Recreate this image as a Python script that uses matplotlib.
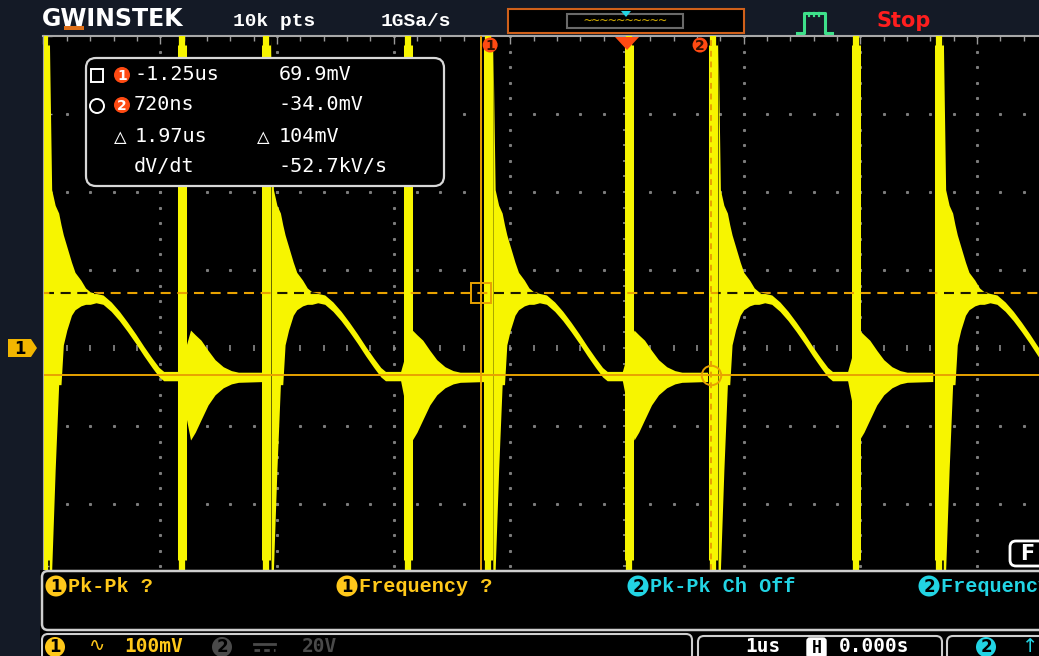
import numpy as np
import matplotlib.pyplot as plt
from matplotlib.patches import FancyBboxPatch, Rectangle, Polygon, Circle
from matplotlib.ticker import MultipleLocator

W, H = 1039, 656

# ---- values ----
# time in us (0 = trigger point), level in mV (0 = ch1 ground); 1us/div, 100mV/div
rise_times = [-5.00, -3.10, -1.20, 0.73, 2.66]
fall_times = [-3.82, -1.89, 0.01, 1.95]
spike_span = (-272, 388)   # where the spikes are drawn at full width

# one cycle after each rising spike: offset (us), top / bottom of the trace band (mV)
cycle_t = [0.05, 0.07, 0.10, 0.13, 0.15, 0.17, 0.20, 0.24, 0.27, 0.32, 0.36, 0.40,
           0.45, 0.51, 0.58, 0.65, 0.72, 0.79, 0.86, 0.93, 0.99, 1.03, 1.16,
           1.26, 1.30, 1.35, 1.41, 1.47, 1.54, 1.61, 1.67, 1.89]
cycle_top = [399, 203, 183, 173, 158, 145, 130, 110, 97, 87, 77, 72,
             70, 68, 59, 47, 33, 18, 2, -13, -25, -30, -30,
             23, 17, 10, -3, -15, -24, -29, -31, -31]
cycle_bot = [-285, -285, -156, -47, -47, 4, 23, 42, 49, 54, 56, 56,
             58, 56, 47, 35, 21, 6, -10, -25, -37, -42, -42,
             -118, -108, -92, -73, -60, -51, -46, -44, -43]

trigger_t = 0.0
cursor_t = [-1.25, 0.72]
cursor_v = [69.9, -34.0]

readout_left = ["-1.25us", "720ns", "1.97us", "dV/dt"]
readout_right = ["69.9mV", "-34.0mV", "104mV", "-52.7kV/s"]
meas_channel = ["1", "1", "2", "2"]
meas_label = ["Pk-Pk ?", "Frequency ?", "Pk-Pk Ch Off", "Frequency ?"]

YEL = '#f7f500'
CUR = '#e8a200'
RED = '#ff4a12'
CYAN = '#22d4e4'
CH1 = '#ffc81a'
NAVY = '#141a26'
MONO = ['DejaVu Sans Mono', 'DejaVu Sans']
CMONO = ['Liberation Mono', 'DejaVu Sans Mono']

fig = plt.figure(figsize=(W / 100, H / 100), dpi=100, facecolor=NAVY)

# graticule area
ax = fig.add_axes([43.5 / W, (H - 570) / H, (W - 43.5) / W, (570 - 36) / H])
ax.set_facecolor('black')
ax.set_xlim(-5.0, 3.53)
ax.set_ylim(-284.6, 400)
for s in ['right', 'bottom']:
    ax.spines[s].set_visible(False)
for s in ['top', 'left']:
    ax.spines[s].set_color('#a8a8a8')
    ax.spines[s].set_linewidth(1.5)
ax.xaxis.set_major_locator(MultipleLocator(1))
ax.xaxis.set_minor_locator(MultipleLocator(0.2))
ax.yaxis.set_major_locator(MultipleLocator(100))
ax.yaxis.set_minor_locator(MultipleLocator(20))
ax.tick_params(which='both', direction='in', top=True, bottom=False, left=True,
               right=False, labeltop=False, labelbottom=False, labelleft=False,
               color='#9a9a9a', width=1)
ax.tick_params(which='major', length=6)
ax.tick_params(which='minor', length=3.5)

# grid dots
yy = np.arange(-280, 401, 20)
xx = np.arange(-5, 3.6, 0.2)
for gx in range(-4, 4):
    if gx == 0:
        continue
    ax.plot(np.full(len(yy), gx), yy, ls='none', marker='s', ms=1.2, color='#7c7c7c', zorder=1)
for gy in [-200, -100, 100, 200, 300]:
    ax.plot(xx, np.full(len(xx), gy), ls='none', marker='s', ms=1.2, color='#7c7c7c', zorder=1)
ax.plot(np.zeros(len(yy)), yy, ls='none', marker='_', ms=6, mew=1.2, color='#8a8a8a', zorder=1)
ax.plot(xx, np.zeros(len(xx)), ls='none', marker='|', ms=5, mew=1.2, color='#8a8a8a', zorder=1)

# trace
bands = []
for r in rise_times:
    bands.append(ax.fill_between([r + t for t in cycle_t], cycle_top, cycle_bot,
                                 color=YEL, lw=0, zorder=3))
for s in rise_times + fall_times:
    ax.axvline(s + 0.01, color=YEL, lw=4.5, zorder=3)
    ax.vlines(s + 0.01, spike_span[0], spike_span[1], color=YEL, lw=6.5, zorder=3)

# cursors
ax.axvline(cursor_t[0], color=CUR, lw=1.4, zorder=4)
ax.axvline(cursor_t[1], color=CUR, lw=1.4, ls=(0, (3, 2.5)), zorder=4)
ax.axhline(cursor_v[0], color=CUR, lw=1.5, ls=(0, (4.8, 3.2)), zorder=4)
ax.axhline(cursor_v[1], color=CUR, lw=1.4, zorder=4)
# the dashed cursor shows dark where it crosses the trace
for b in bands:
    dark = ax.axhline(cursor_v[0], color='#1a1a00', lw=1.5, ls=(0, (4.8, 3.2)), zorder=4.5)
    dark.set_clip_path(b.get_paths()[0], ax.transData)
ax.plot(cursor_t[0], cursor_v[0], marker='s', ms=14, mfc='none', mec=CUR, mew=1.4, zorder=5)
ax.plot(cursor_t[1], cursor_v[1], marker='o', ms=14, mfc='none', mec=CUR, mew=1.4, zorder=5)


def to_px(t, v):
    x, y = ax.transData.transform((t, v))
    return x, H - y


# overlay for the instrument chrome
ui = fig.add_axes([0, 0, 1, 1], zorder=5)
ui.set_xlim(0, W)
ui.set_ylim(H, 0)
ui.axis('off')


def badge(x, y, d, fc, tc, r=9, fs=10.5):
    ui.add_patch(Circle((x, y), r, fc=fc, ec='none'))
    ui.text(x, y + 0.5, d, color=tc, ha='center', va='center', fontsize=fs,
            fontweight='bold', family='DejaVu Sans')


# top bar
ui.text(42, 19, 'GWINSTEK', color='white', fontsize=17, fontweight='heavy',
        family='DejaVu Sans', va='center', ha='left')
ui.add_patch(Rectangle((64, 26), 20, 4, fc='#e07018', ec='none'))
ui.text(233, 22, '10k pts', color='white', fontsize=14, fontweight='bold', family=CMONO, va='center')
ui.text(381, 22, '1GSa/s', color='white', fontsize=14, fontweight='bold', family=CMONO, va='center')
ui.add_patch(Rectangle((508, 9), 236, 24, fc='black', ec='#d0601a', lw=1.5))
ui.add_patch(Rectangle((567, 13.5), 116, 14.5, fc='black', ec='#6a6a6a', lw=1.5))
ui.text(625, 21.5, '~' * 10, color='#c9a400', fontsize=10, family=MONO, ha='center', va='center')
ui.add_patch(Polygon([(621, 11), (631, 11), (626, 17)], fc=CYAN, ec='none'))
ui.plot([797, 804, 804, 825, 825, 832], [33, 33, 13, 13, 33, 33], color='#3ee08a', lw=2.2)
for tx in [809, 814, 819]:
    ui.plot([tx, tx], [13, 16], color='#3ee08a', lw=1.6)
ui.text(877, 21, 'Stop', color='#ff1e1e', fontsize=15, fontweight='bold', family='DejaVu Sans', va='center')

# trigger marker and cursor badges
tx0, _ = to_px(trigger_t, 0)
ui.add_patch(Polygon([(tx0 - 12, 37), (tx0 + 12, 37), (tx0, 50)], fc=RED, ec='none'))
c1x, _ = to_px(cursor_t[0], 0)
c2x, _ = to_px(cursor_t[1], 0)
badge(c1x + 9, 45, '1', RED, '#301000', r=7.5, fs=10)
badge(c2x - 11, 45, '2', RED, '#301000', r=7.5, fs=10)

# ch1 ground tag
_, gy0 = to_px(0, 0)
ui.add_patch(Polygon([(8, gy0 - 9), (31, gy0 - 9), (37, gy0), (31, gy0 + 9), (8, gy0 + 9)],
                     fc='#f2b600', ec='none'))
ui.text(20, gy0 + 0.5, '1', color='black', fontsize=12, fontweight='bold', family='DejaVu Sans',
        ha='center', va='center')

# cursor readout box
ui.add_patch(FancyBboxPatch((86, 58), 358, 128, boxstyle='round,pad=0,rounding_size=10',
                            fc='black', ec='#d8d8d8', lw=1.6))
rows = [75, 105, 137, 167]
ui.add_patch(Rectangle((91, 69), 12, 13, fc='none', ec='white', lw=1.4))
ui.add_patch(Circle((97, 106), 7, fc='none', ec='white', lw=1.4))
badge(122, rows[0], '1', RED, 'white', r=8, fs=10)
badge(122, rows[1], '2', RED, 'white', r=8, fs=10)
ui.text(114, rows[2], '\u25b3', color='white', fontsize=15, family=MONO, va='center')
ui.text(257, rows[2], '\u25b3', color='white', fontsize=15, family=MONO, va='center')
lx = [134, 134, 135, 134]
rx = [279, 279, 279, 279]
for i in range(4):
    ui.text(lx[i], rows[i], readout_left[i], color='white', fontsize=14.5, family=MONO, va='center')
    ui.text(rx[i], rows[i], readout_right[i], color='white', fontsize=14.5, family=MONO, va='center')

# measurement panel
ui.add_patch(Rectangle((40, 570), W - 40, 86, fc='black', ec='none'))
ui.add_patch(FancyBboxPatch((42, 571), W, 59, boxstyle='round,pad=0,rounding_size=6',
                            fc='black', ec='#cfcfcf', lw=1.8))
mx = [56, 347, 638, 929]
for i in range(4):
    col = CH1 if meas_channel[i] == '1' else CYAN
    badge(mx[i], 586, meas_channel[i], col, 'black', r=10.5, fs=12)
    ui.text(mx[i] + 12, 586, meas_label[i], color=col, fontsize=14.5, fontweight='bold',
            family=CMONO, va='center', ha='left', clip_on=False)

# bottom status bar
ui.add_patch(FancyBboxPatch((42, 634), 650, 40, boxstyle='round,pad=0,rounding_size=6',
                            fc='black', ec='#cfcfcf', lw=1.5))
badge(55, 647, '1', CH1, 'black', r=10, fs=12)
ui.text(97, 646, '\u223f', color=CH1, fontsize=14, family=MONO, ha='center', va='center')
ui.text(124, 647, '100mV', color=CH1, fontsize=14, fontweight='bold', family=MONO, va='center')
badge(222, 647, '2', '#4a4a4a', 'black', r=10, fs=12)
ui.plot([254, 275], [644, 644], color='#4a4a4a', lw=2)
ui.plot([254, 275], [650, 650], color='#4a4a4a', lw=2, ls=(0, (2, 1.5)))
ui.text(302, 647, '20V', color='#4a4a4a', fontsize=14, fontweight='bold', family=MONO, va='center')
ui.add_patch(FancyBboxPatch((698, 636), 244, 40, boxstyle='round,pad=0,rounding_size=6',
                            fc='black', ec='#cfcfcf', lw=1.5))
ui.text(745, 647, '1us', color='white', fontsize=14, fontweight='bold', family=MONO, va='center')
ui.add_patch(FancyBboxPatch((807, 638), 19, 20, boxstyle='round,pad=0,rounding_size=3',
                            fc='white', ec='white', lw=1))
ui.text(816.5, 648, 'H', color='black', fontsize=12, fontweight='bold', family=MONO,
        ha='center', va='center')
ui.text(839, 647, '0.000s', color='white', fontsize=14, fontweight='bold', family=MONO, va='center')
ui.add_patch(FancyBboxPatch((947, 636), 120, 40, boxstyle='round,pad=0,rounding_size=6',
                            fc='black', ec='#cfcfcf', lw=1.5))
badge(986, 647, '2', CYAN, 'black', r=10, fs=12)
ui.text(1030, 646, '\u2191', color=CYAN, fontsize=14, family='DejaVu Sans', va='center', ha='center')

# F soft key
ui.add_patch(FancyBboxPatch((1010, 541), 50, 25, boxstyle='round,pad=0,rounding_size=6',
                            fc='black', ec='white', lw=2))
ui.text(1027, 553.5, 'F', color='white', fontsize=15, fontweight='bold', family='DejaVu Sans',
        ha='center', va='center')

fig.savefig('out.png', dpi=100, facecolor=fig.get_facecolor())
